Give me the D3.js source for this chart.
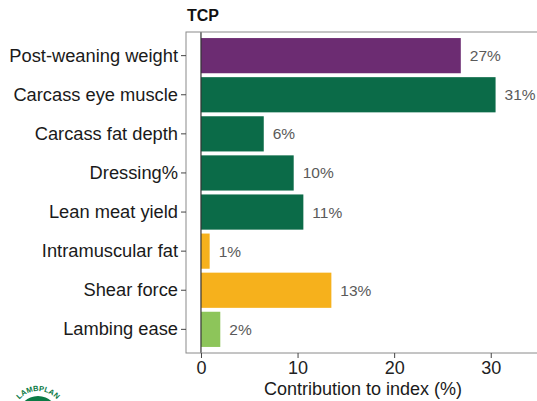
<!DOCTYPE html>
<html>
<head>
<meta charset="utf-8">
<script src="https://cdn.jsdelivr.net/npm/d3@7"></script>
<style>
  body { margin: 0; background: #fff; }
  svg { font-family: "Liberation Sans", Arial, sans-serif; }
</style>
</head>
<body>
<script>
var traits = ["Post-weaning weight", "Carcass eye muscle", "Carcass fat depth", "Dressing%",
              "Lean meat yield", "Intramuscular fat", "Shear force", "Lambing ease"];
var contribution = [26.9, 30.5, 6.5, 9.6, 10.6, 0.9, 13.5, 2.0];
var labels = ["27%", "31%", "6%", "10%", "11%", "1%", "13%", "2%"];
var groups = ["growth", "carcass", "carcass", "carcass", "carcass", "eating", "eating", "repro"];
var xTicks = [0, 10, 20, 30];

var data = traits.map(function(t, i) {
    return { trait: t, value: contribution[i], label: labels[i], group: groups[i] };
});

var width = 537, height = 401;
var panel = { left: 186, right: 540, top: 32, bottom: 353 };
var fontFam = "Liberation Sans, Arial, sans-serif";

var colour = d3.scaleOrdinal()
    .domain(["growth", "carcass", "eating", "repro"])
    .range(["#6c2c72", "#0b6b48", "#f6b11c", "#8dc55a"]);

var svg = d3.select("body").append("svg")
    .attr("width", width).attr("height", height);

var x = d3.scaleLinear().domain([-1.55, 35.1]).range([panel.left, panel.right]);
var y = d3.scaleBand().domain(traits).range([panel.top, panel.bottom])
    .paddingInner(0.1).paddingOuter(0.155);

// title
svg.append("text").attr("x", 187).attr("y", 21)
    .style("font-weight", "bold").style("font-size", "16px").attr("fill", "#111")
    .text("TCP");

// bars
svg.selectAll(".bar").data(data).enter().append("rect")
    .attr("class", "bar")
    .attr("x", x(0))
    .attr("y", function(d) { return y(d.trait); })
    .attr("width", function(d) { return x(d.value) - x(0); })
    .attr("height", y.bandwidth())
    .attr("fill", function(d) { return colour(d.group); });

// value labels
svg.selectAll(".val").data(data).enter().append("text")
    .attr("class", "val")
    .attr("x", function(d) { return x(d.value) + 9; })
    .attr("y", function(d) { return y(d.trait) + y.bandwidth() / 2; })
    .attr("dominant-baseline", "central")
    .attr("fill", "#5a5a5a")
    .style("font-size", "15.5px")
    .text(function(d) { return d.label; });

// zero line
svg.append("line")
    .attr("x1", x(0)).attr("x2", x(0))
    .attr("y1", panel.top).attr("y2", panel.bottom)
    .attr("stroke", "#333").attr("stroke-width", 1.2);

// panel border
svg.append("rect")
    .attr("x", panel.left).attr("y", panel.top)
    .attr("width", panel.right - panel.left).attr("height", panel.bottom - panel.top)
    .attr("fill", "none").attr("stroke", "#8a8a8a").attr("stroke-width", 1);

// y axis
var yAxis = svg.append("g").attr("transform", "translate(" + panel.left + ",0)")
    .call(d3.axisLeft(y).tickSize(5).tickPadding(3));
yAxis.select(".domain").remove();
yAxis.selectAll("line").attr("stroke", "#444");
yAxis.selectAll("text").attr("fill", "#1a1a1a")
    .style("font-size", "18.3px").style("font-family", fontFam);

// x axis
var xAxis = svg.append("g").attr("transform", "translate(0," + panel.bottom + ")")
    .call(d3.axisBottom(x).tickValues(xTicks).tickSize(5).tickPadding(3));
xAxis.select(".domain").remove();
xAxis.selectAll("line").attr("stroke", "#444");
xAxis.selectAll("text").attr("fill", "#222")
    .style("font-size", "18px").style("font-family", fontFam);

svg.append("text")
    .attr("x", (panel.left + panel.right) / 2).attr("y", 395)
    .attr("text-anchor", "middle").attr("fill", "#1a1a1a")
    .style("font-size", "18px")
    .text("Contribution to index (%)");

// partial logo, bottom left
var logo = svg.append("g").attr("transform", "translate(38,416)");
logo.append("circle").attr("r", 20).attr("fill", "#0b7a45");
logo.append("path").attr("id", "logoArc")
    .attr("d", d3.arc()({ innerRadius: 25, outerRadius: 25, startAngle: -0.85, endAngle: 0.85 }).split("L")[0])
    .attr("fill", "none");
logo.append("text").style("font-size", "7.5px").style("font-weight", "bold")
    .attr("fill", "#0b7a45").attr("text-anchor", "middle")
    .append("textPath").attr("href", "#logoArc").attr("startOffset", "25%")
    .text("LAMBPLAN");
</script>
</body>
</html>
